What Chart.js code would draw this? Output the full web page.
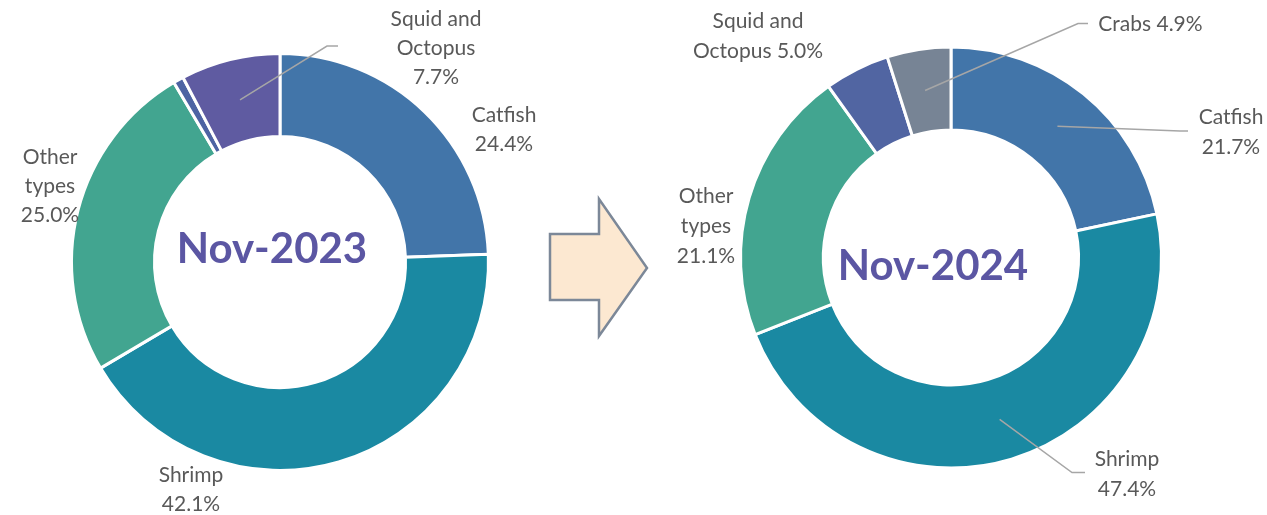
<!DOCTYPE html>
<html>
<head>
<meta charset="utf-8">
<script src="https://cdn.jsdelivr.net/npm/chart.js@4.4.1/dist/chart.umd.min.js"></script>
<style>
  html, body { margin: 0; padding: 0; background: #ffffff; }
  #wrap { position: relative; width: 1267px; height: 515px; overflow: hidden; }
  #wrap canvas, #wrap svg { position: absolute; top: 0; }
  #c2023 { left: 0; }
  #c2024 { left: 640px; }
  #arrow { left: 0; }
</style>
</head>
<body>
<div id="wrap">
  <canvas id="c2023" width="560" height="515"></canvas>
  <svg id="arrow" width="1267" height="515">
    <polygon points="550,234 599,234 599,199 647,268 599,336 599,300 550,300"
             fill="#fce8d1" stroke="#7c8898" stroke-width="2.5" stroke-linejoin="miter"/>
  </svg>
  <canvas id="c2024" width="627" height="515"></canvas>
</div>
<script>
// Export structure by product group, share of total (%)
const periods = ['Nov-2023', 'Nov-2024'];

const categories2023 = ['Catfish', 'Shrimp', 'Other types', 'Crabs', 'Squid and Octopus'];
const values2023 = [24.4, 42.1, 25.0, 0.8, 7.7];
const colors2023 = ['#4275a9', '#1a89a2', '#42a590', '#4d63a3', '#5f5ba1'];

const categories2024 = ['Catfish', 'Shrimp', 'Other types', 'Squid and Octopus', 'Crabs'];
const values2024 = [21.7, 47.4, 21.1, 5.0, 4.9];
const colors2024 = ['#4275a9', '#1a89a2', '#42a590', '#5165a2', '#778495'];

// Data label layout: text lines ({v} = value), label offset from the ring centre,
// optional leader line points (offsets from the ring centre) after the slice midpoint.
const labels2023 = [
  { index: 0, lines: ['Catfish', '{v}'], dx: 224, dy: -147 },
  { index: 1, lines: ['Shrimp', '{v}'], dx: -89, dy: 213 },
  { index: 2, lines: ['Other', 'types', '{v}'], dx: -230, dy: -105 },
  { index: 4, lines: ['Squid and', 'Octopus', '{v}'], dx: 156, dy: -243,
    leader: [[47, -216], [58, -216]] }
];
const labels2024 = [
  { index: 0, lines: ['Catfish', '{v}'], dx: 280, dy: -140,
    leader: [[229, -126.5], [237, -126.5]] },
  { index: 1, lines: ['Shrimp', '{v}'], dx: 176, dy: 202,
    leader: [[121, 215], [134, 215]] },
  { index: 2, lines: ['Other', 'types', '{v}'], dx: -245, dy: -61 },
  { index: 3, lines: ['Squid and', 'Octopus {v}'], dx: -193, dy: -236 },
  { index: 4, lines: ['Crabs {v}'], dx: 199.5, dy: -233,
    leader: [[127, -234], [137, -234]] }
];

const calloutPlugin = {
  id: 'callouts',
  afterDatasetsDraw(chart, args, opts) {
    const ctx = chart.ctx;
    const meta = chart.getDatasetMeta(0);
    const cx = meta.data[0].x;
    const cy = meta.data[0].y;
    const values = chart.data.datasets[0].data;
    ctx.save();
    opts.items.forEach(item => {
      if (item.leader) {
        const p = meta.data[item.index].getCenterPoint();
        ctx.beginPath();
        ctx.moveTo(p.x, p.y);
        item.leader.forEach(([dx, dy]) => ctx.lineTo(cx + dx, cy + dy));
        ctx.strokeStyle = '#a6a6a6';
        ctx.lineWidth = 1.5;
        ctx.stroke();
      }
    });
    ctx.font = opts.font;
    ctx.fillStyle = opts.color;
    ctx.textAlign = 'center';
    ctx.textBaseline = 'middle';
    opts.items.forEach(item => {
      const txt = values[item.index].toFixed(1) + '%';
      item.lines.forEach((line, k) => {
        ctx.fillText(line.replace('{v}', txt), cx + item.dx, cy + item.dy + k * opts.lineHeight);
      });
    });
    ctx.font = opts.titleFont;
    ctx.fillStyle = opts.titleColor;
    ctx.fillText(opts.title, cx + opts.titleDx, cy + opts.titleDy);
    ctx.restore();
  }
};

function makeDonut(id, categories, values, colors, items, title, titleDx, titleDy, padding, radius, cutout, lineHeight) {
  return new Chart(document.getElementById(id), {
    type: 'doughnut',
    data: {
      labels: categories,
      datasets: [{
        data: values,
        backgroundColor: colors,
        borderColor: '#ffffff',
        borderWidth: 3,
        hoverOffset: 0
      }]
    },
    options: {
      responsive: false,
      animation: false,
      events: [],
      layout: { padding: padding },
      radius: radius,
      cutout: cutout,
      plugins: {
        legend: { display: false },
        tooltip: { enabled: false },
        callouts: {
          items: items,
          font: '21px Lato',
          color: '#595959',
          lineHeight: lineHeight,
          title: title,
          titleFont: 'bold 42px Lato',
          titleColor: '#5b56a3',
          titleDx: titleDx,
          titleDy: titleDy
        }
      }
    },
    plugins: [calloutPlugin]
  });
}

function draw() {
  makeDonut('c2023', categories2023, values2023, colors2023, labels2023,
    periods[0], -8, -13, { top: 9, bottom: 0, left: 0, right: 0 }, 208.5, '60.2%', 29);
  makeDonut('c2024', categories2024, values2024, colors2024, labels2024,
    periods[1], -18, 8.5, { top: 0, bottom: 0, left: 0, right: 5 }, 210.5, '60.6%', 30);
}

if (document.fonts && document.fonts.load) {
  Promise.all([document.fonts.load('21px Lato'), document.fonts.load('bold 42px Lato')])
    .then(draw, draw);
} else {
  draw();
}
</script>
</body>
</html>
